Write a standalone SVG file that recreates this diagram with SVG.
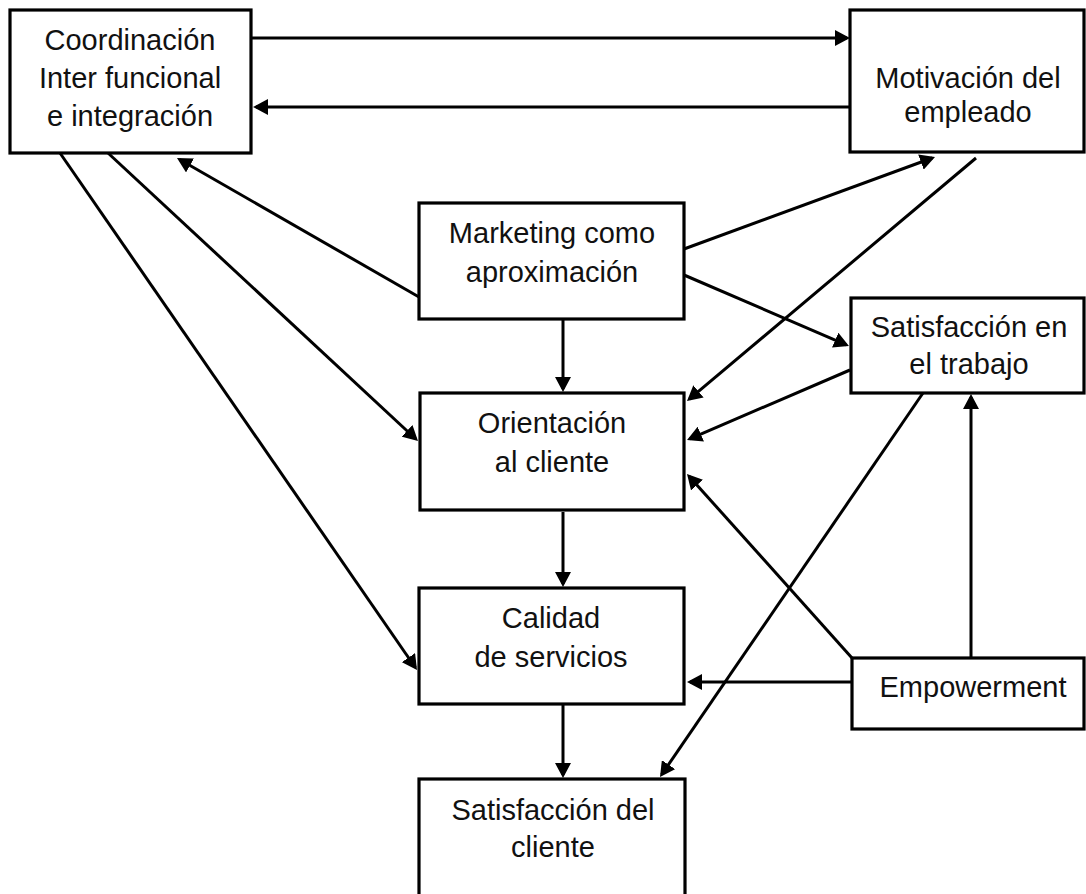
<svg xmlns="http://www.w3.org/2000/svg" width="1086" height="894" viewBox="0 0 1086 894">
<style>
.box{fill:#fff;stroke:#000;stroke-width:3.2}
.lbl{font-family:"Liberation Sans",Arial,sans-serif;font-size:29px;fill:#111;text-anchor:middle}
.c{stroke:#000;stroke-width:3;fill:none;marker-end:url(#ah)}
.n{stroke:#000;stroke-width:3;fill:none}
</style>
<defs>
<marker id="ah" markerUnits="userSpaceOnUse" markerWidth="16" markerHeight="16" refX="12" refY="8" orient="auto">
<path d="M0,0 L15,8 L0,16 Z" fill="#000"/>
</marker>
</defs>
<rect width="1086" height="894" fill="#fff"/>
<g id="connectors">
<line class="c" x1="251" y1="38" x2="847" y2="38"/>
<line class="c" x1="850" y1="107" x2="256" y2="107"/>
<line class="c" x1="419" y1="297" x2="179.6" y2="159.5"/>
<line class="c" x1="108" y1="153" x2="415.8" y2="439"/>
<line class="c" x1="60" y1="153" x2="415.3" y2="667.5"/>
<line class="c" x1="684" y1="249" x2="932.2" y2="158"/>
<line class="c" x1="684" y1="275" x2="846.2" y2="344.8"/>
<line class="c" x1="563" y1="319" x2="563" y2="389"/>
<line class="c" x1="976" y1="158" x2="689.3" y2="399.1"/>
<line class="c" x1="850" y1="370" x2="689.8" y2="438.8"/>
<line class="c" x1="852" y1="658" x2="689" y2="476.2"/>
<line class="c" x1="971" y1="658" x2="971" y2="397"/>
<line class="c" x1="852" y1="682" x2="690" y2="682"/>
<line class="c" x1="923" y1="393" x2="661.7" y2="774.5"/>
<line class="c" x1="563" y1="512" x2="563" y2="584"/>
<line class="c" x1="563" y1="705" x2="563" y2="775"/>
</g>
<g id="coordinacion">
<rect class="box" x="10" y="10" width="241" height="143"/>
<text class="lbl" x="130" y="50">Coordinación</text>
<text class="lbl" x="130" y="88">Inter funcional</text>
<text class="lbl" x="130" y="126">e integración</text>
</g>
<g id="motivacion">
<rect class="box" x="850" y="10" width="234" height="142"/>
<text class="lbl" x="968" y="88">Motivación del</text>
<text class="lbl" x="968" y="122">empleado</text>
</g>
<g id="marketing">
<rect class="box" x="419" y="203" width="265" height="116"/>
<text class="lbl" x="552" y="243">Marketing como</text>
<text class="lbl" x="552" y="282">aproximación</text>
</g>
<g id="satisfaccion-trabajo">
<rect class="box" x="851" y="298" width="233" height="95"/>
<text class="lbl" x="969" y="337">Satisfacción en</text>
<text class="lbl" x="969" y="374">el trabajo</text>
</g>
<g id="orientacion">
<rect class="box" x="420" y="393" width="264" height="117"/>
<text class="lbl" x="552" y="433">Orientación</text>
<text class="lbl" x="552" y="472">al cliente</text>
</g>
<g id="calidad">
<rect class="box" x="419" y="588" width="265" height="116"/>
<text class="lbl" x="551" y="628">Calidad</text>
<text class="lbl" x="551" y="667">de servicios</text>
</g>
<g id="satisfaccion-cliente">
<rect class="box" x="419" y="779" width="266" height="130"/>
<text class="lbl" x="553" y="820">Satisfacción del</text>
<text class="lbl" x="553" y="857">cliente</text>
</g>
<g id="empowerment">
<rect class="box" x="852" y="658" width="232" height="71"/>
<text class="lbl" x="973" y="697">Empowerment</text>
</g>
</svg>
